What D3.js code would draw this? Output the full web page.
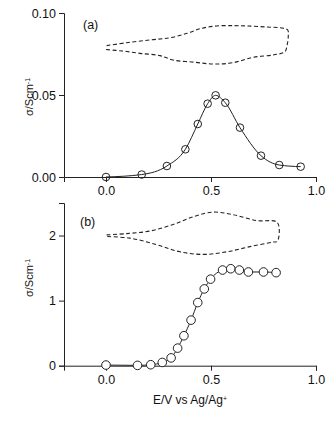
<!DOCTYPE html>
<html>
<head>
<meta charset="utf-8">
<script src="https://cdn.jsdelivr.net/npm/d3@7"></script>
<style>
  body { margin: 0; background: #fff; }
  text { font-family: "Liberation Sans", Arial, sans-serif; fill: #111; }
</style>
</head>
<body>
<div id="chart"></div>
<script>
// panel (a): conductivity vs potential
const aE = [0.0, 0.17, 0.29, 0.378, 0.437, 0.484, 0.522, 0.568, 0.638, 0.738, 0.825, 0.927]
const aSigma = [0.0, 0.0015, 0.0067, 0.0169, 0.0323, 0.0447, 0.0498, 0.0453, 0.0301, 0.013, 0.0073, 0.0063]
// cyclic voltammogram outline for (a), drawn in the panel's own units
const aCvE = [0.003, 0.099, 0.21, 0.305, 0.386, 0.45, 0.527, 0.61, 0.67, 0.76, 0.845, 0.866, 0.868, 0.862, 0.852,
  0.80, 0.70, 0.605, 0.511, 0.42, 0.32, 0.257, 0.162, 0.08, 0.0]
const aCvI = [0.0801, 0.0819, 0.0836, 0.0849, 0.0876, 0.0905, 0.0921, 0.0923, 0.0921, 0.0915, 0.0907, 0.0895, 0.0860, 0.0800, 0.0764,
  0.0745, 0.0730, 0.0697, 0.0689, 0.0700, 0.0713, 0.0740, 0.0754, 0.0768, 0.0777]

// panel (b)
const bE = [0.0, 0.15, 0.213, 0.268, 0.31, 0.341, 0.371, 0.405, 0.437, 0.468, 0.498, 0.555, 0.594, 0.635, 0.678, 0.75, 0.81]
const bSigma = [0.01, 0.005, 0.015, 0.05, 0.12, 0.27, 0.46, 0.70, 0.97, 1.18, 1.33, 1.47, 1.49, 1.47, 1.44, 1.44, 1.43]
const bCvE = [0.003, 0.099, 0.21, 0.32, 0.416, 0.511, 0.606, 0.717, 0.816, 0.816, 0.797, 0.686, 0.575, 0.463, 0.352, 0.241, 0.114, 0.0]
const bCvI = [2.01, 2.03, 2.07, 2.17, 2.29, 2.36, 2.32, 2.23, 2.20, 1.91, 1.90, 1.83, 1.75, 1.71, 1.75, 1.86, 1.96, 1.985]

const xTicks = [0, 0.5, 1.0]
const aTicks = [0, 0.05, 0.10]
const bTicks = [0, 1, 2]

const W = 331, H = 421
const svg = d3.select("#chart").append("svg")
  .attr("width", W).attr("height", H)

svg.append("rect").attr("width", W).attr("height", H).attr("fill", "#fff")

const x = d3.scaleLinear().domain([-0.2, 1.0]).range([64, 316])

function panel(opt) {
  const y = d3.scaleLinear().domain(opt.yDomain).range(opt.yRange)
  const g = svg.append("g")

  const xAxis = g.append("g")
    .attr("transform", `translate(0, ${opt.yRange[0]})`)
    .call(d3.axisBottom(x).tickValues(xTicks).tickFormat(d3.format(".1f"))
      .tickSizeOuter(0).tickSize(5).tickPadding(4.5))
  const yAxis = g.append("g")
    .attr("transform", `translate(64, 0)`)
    .call(d3.axisLeft(y).tickValues(opt.yTicks).tickFormat(opt.yFormat)
      .tickSizeOuter(0).tickSize(5).tickPadding(3))

  for (const ax of [xAxis, yAxis]) {
    ax.selectAll("text").style("font-size", "12.5px").attr("fill", "#111")
      .style("font-family", '"Liberation Sans", Arial, sans-serif')
    ax.selectAll("path, line").attr("stroke", "#222").attr("stroke-width", 1)
  }

  // y title
  const yt = g.append("text")
    .attr("transform", `translate(33, ${opt.yTitleY}) rotate(-90)`)
    .attr("text-anchor", "middle")
    .style("font-size", "11px")
  yt.append("tspan").text("σ/Scm")
  yt.append("tspan").attr("dy", "-0.45em").style("font-size", "7px").text("-1")

  g.append("text")
    .attr("x", opt.labelX).attr("y", opt.labelY)
    .style("font-size", "12.5px")
    .text(opt.label)

  // cv outline
  const cv = opt.cvE.map((e, i) => [e, opt.cvI[i]])
  g.append("path")
    .datum(cv)
    .attr("fill", "none")
    .attr("stroke", "#222")
    .attr("stroke-width", 1.1)
    .attr("stroke-dasharray", "4,2.5")
    .attr("d", d3.line().x(d => x(d[0])).y(d => y(d[1])).curve(d3.curveCatmullRom))

  const pts = opt.e.map((e, i) => [e, opt.s[i]])
  g.append("path")
    .datum(pts)
    .attr("fill", "none")
    .attr("stroke", "#222")
    .attr("stroke-width", 1)
    .attr("d", d3.line().x(d => x(d[0])).y(d => y(d[1])).curve(d3.curveMonotoneX))

  g.selectAll("circle.pt")
    .data(pts)
    .enter()
    .append("circle")
      .attr("cx", d => x(d[0]))
      .attr("cy", d => y(d[1]))
      .attr("r", opt.r)
      .attr("fill", opt.fill)
      .attr("stroke", "#222")
      .attr("stroke-width", 1)
}

panel({
  yDomain: [0, 0.10], yRange: [177, 13], yTicks: aTicks, yFormat: d3.format(".2f"),
  yTitleY: 97, label: "(a)", labelX: 83, labelY: 29,
  cvE: aCvE, cvI: aCvI, e: aE, s: aSigma, r: 3.8, fill: "none"
})

panel({
  yDomain: [0, 2.5], yRange: [365.7, 203], yTicks: bTicks, yFormat: d3.format("d"),
  yTitleY: 278, label: "(b)", labelX: 80, labelY: 226,
  cvE: bCvE, cvI: bCvI, e: bE, s: bSigma, r: 4.3, fill: "#fff"
})

// x title
const xt = svg.append("text")
  .attr("x", 190).attr("y", 404)
  .attr("text-anchor", "middle")
  .style("font-size", "12px")
xt.append("tspan").text("E/V vs Ag/Ag")
xt.append("tspan").attr("dy", "-0.5em").style("font-size", "7px").text("+")
</script>
</body>
</html>
